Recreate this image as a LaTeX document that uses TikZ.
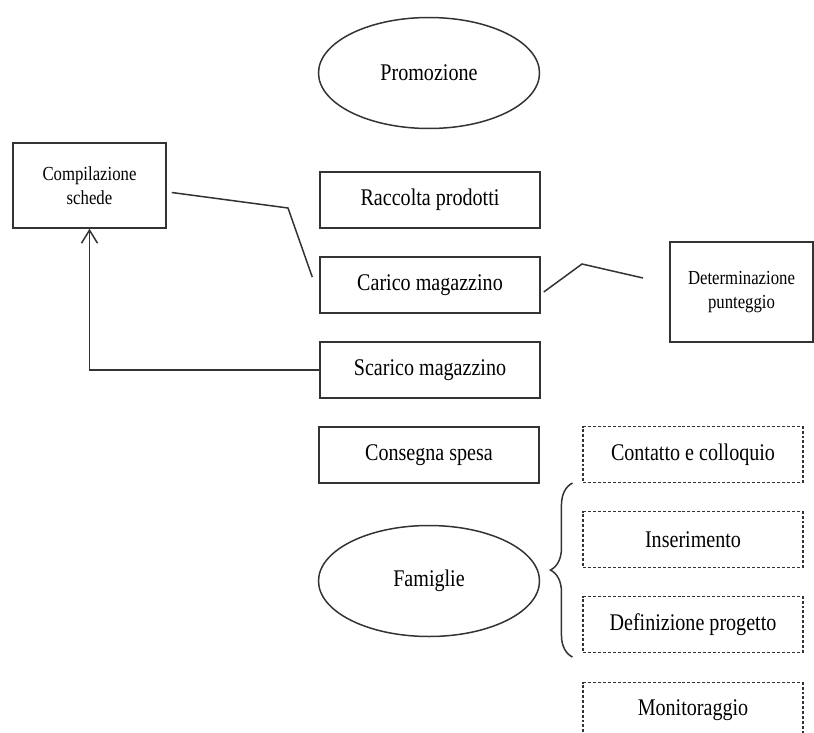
\documentclass[tikz,border=0pt]{standalone}
\usepackage{fontspec}
\setmainfont[FakeStretch=0.84]{Liberation Serif}
\usetikzlibrary{shapes.geometric,arrows.meta,decorations.pathreplacing}
\begin{document}
\begin{tikzpicture}[x=1bp,y=-1bp,line width=1.5bp,black!80]
\tikzstyle{every node}+=[inner sep=0pt,text=black]
\tikzstyle{big}=[font=\fontsize{24}{28}\selectfont]
\tikzstyle{small}=[font=\fontsize{20}{24}\selectfont,align=center]
\tikzstyle{box}=[draw,rectangle,minimum width=220bp,minimum height=56bp,big]
\tikzstyle{dbox}=[box,densely dashed,line width=1.1bp,minimum height=56bp]
\tikzstyle{oval}=[draw,ellipse,minimum width=221bp,minimum height=111bp,big]
\clip (0,0) rectangle (814,733);
%ellissi
\node[oval] (prom) at (429,73) {Promozione};
\node[oval] (fam) at (429,581) {Famiglie};
%colonna centrale
\node[box] (racc) at (430,200) {Raccolta prodotti};
\node[box] (car) at (430,285) {Carico magazzino};
\node[box] (scar) at (430,370) {Scarico magazzino};
\node[box] (cons) at (429,455) {Consegna spesa};
%laterali
\node[draw,minimum width=153bp,minimum height=85bp,small] (comp) at (89.5,185.5) {Compilazione\\schede};
\node[draw,minimum width=143bp,minimum height=100bp,small] (det) at (741.5,292) {Determinazione\\punteggio};
%famiglie
\node[dbox] (cont) at (693,454.5) {Contatto e colloquio};
\node[dbox] (ins) at (693,539.5) {Inserimento};
\node[dbox] (def) at (693,624.5) {Definizione progetto};
\node[dbox] (mon) at (693,710.5) {Monitoraggio};
%linee
\coordinate (b1) at (288,208);
\coordinate (b2) at (582,264);
\coordinate (e2) at (643,278);
\draw ([xshift=5bp,yshift=-7bp]comp.east) -- (b1) -- ([xshift=-7bp,yshift=8bp]car.west);
\draw ([xshift=3bp,yshift=-7bp]car.east) -- (b2) -- (e2);
\draw[-{Straight Barb[length=13bp,width=16bp]}] (scar.west) -| (comp.south);
%graffa
\draw[decorate,decoration={brace,amplitude=22bp,raise=0bp}]
  ([xshift=-10bp,yshift=-4bp]def.south west) -- ([xshift=-10bp]cont.south west);
\end{tikzpicture}
\end{document}
